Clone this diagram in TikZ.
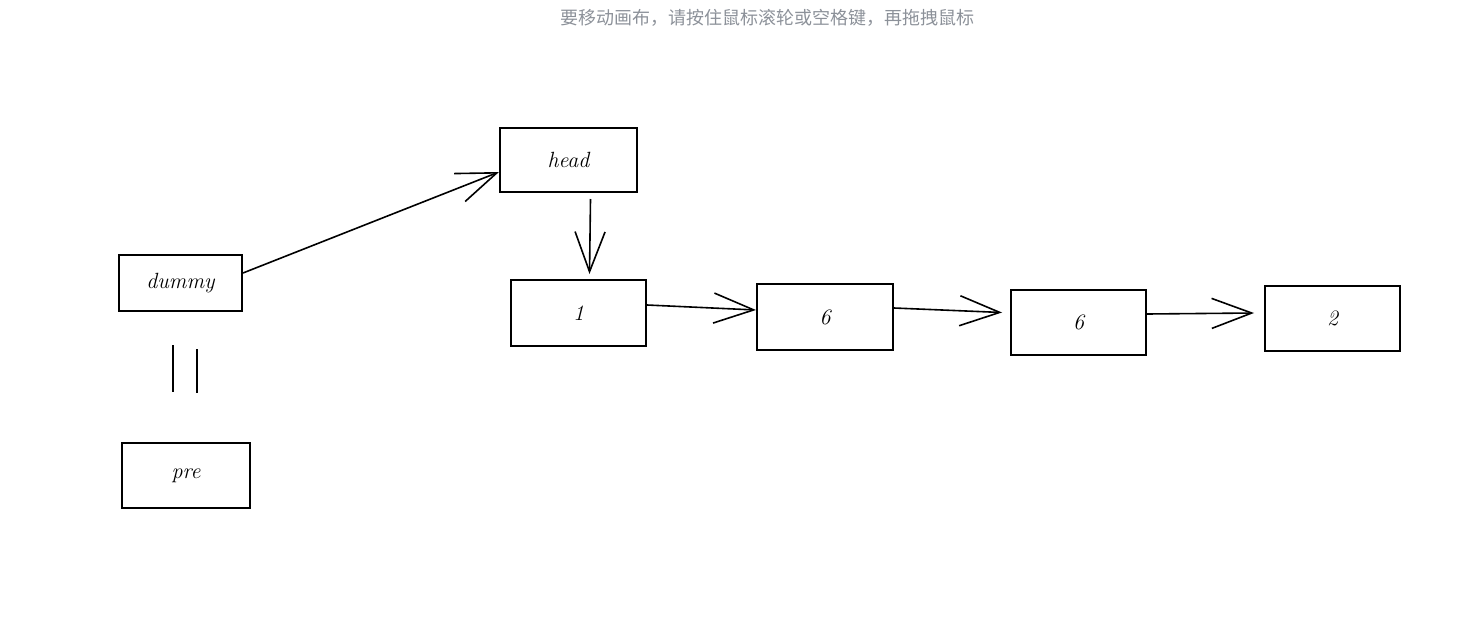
\documentclass[tikz,border=0pt]{standalone}
\usepackage{fontspec}
\usetikzlibrary{arrows.meta}
\newfontfamily\cjk{Noto Sans CJK SC}
\definecolor{hintgray}{RGB}{140,145,153}

\begin{document}
\begin{tikzpicture}[x=1pt, y=-1pt,
    box/.style={rectangle, draw, line width=2pt, inner sep=0pt, font=\fontsize{22}{26}\selectfont\itshape},
    link/.style={line width=1.6pt, -{Straight Barb[length=40pt, width=30pt, line width=1.6pt]}},
    equal/.style={line width=1.6pt}]
     \useasboundingbox (0,0) rectangle (1467,621);
     \node [font=\cjk\fontsize{18}{21}\selectfont, text=hintgray] (hint) at (767,18) {要移动画布，请按住鼠标滚轮或空格键，再拖拽鼠标};
     \node [box, minimum width=123pt, minimum height=56pt] (dummy) at (180.5,283) {dummy};
     \node [box, minimum width=128pt, minimum height=65pt] (pre) at (186,475.5) {pre};
     \node [box, minimum width=137pt, minimum height=64pt] (head) at (568.5,160) {head};
     \node [box, minimum width=135pt, minimum height=66pt] (n1) at (578.5,313) {1};
     \node [box, minimum width=136pt, minimum height=66pt] (n2) at (825,317) {6};
     \node [box, minimum width=135pt, minimum height=65pt] (n3) at (1078.5,322.5) {6};
     \node [box, minimum width=135pt, minimum height=65pt] (n4) at (1332.5,318.5) {2};
     \draw[link] ([yshift=10pt]dummy.east) -- ([yshift=-12pt]head.west);
     \draw[link] ([xshift=22pt, yshift=-6pt]head.south) -- ([xshift=11pt, yshift=5pt]n1.north);
     \draw[link] ([yshift=8pt]n1.east) -- ([yshift=7pt]n2.west);
     \draw[link] ([yshift=9pt]n2.east) -- ([xshift=-8pt, yshift=10pt]n3.west);
     \draw[link] ([yshift=8.5pt]n3.east) -- ([xshift=-10pt, yshift=5.5pt]n4.west);
     % equals sign between dummy and pre
     \draw[equal] (173,345) -- (173,392);
     \draw[equal] (197,349) -- (197,393);
  \end{tikzpicture}
\end{document}
